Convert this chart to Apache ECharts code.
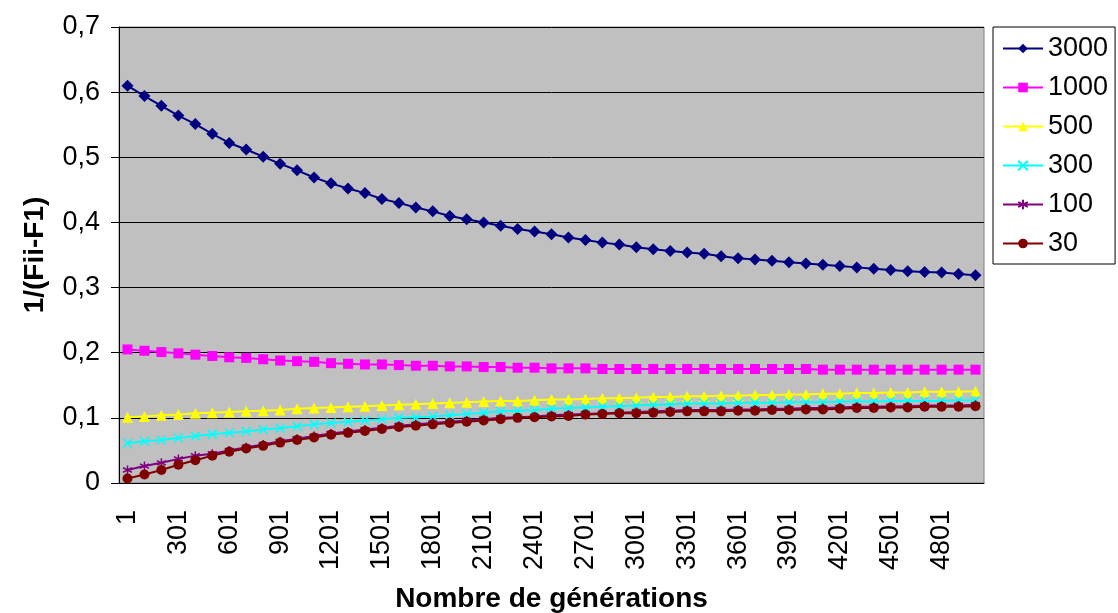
<!DOCTYPE html>
<html lang="fr">
<head>
  <meta charset="UTF-8" />
  <title>1/(Fii-F1)</title>
  <script src="https://cdn.jsdelivr.net/npm/echarts@6/dist/echarts.min.js"></script>
  <style>
    * { margin: 0; padding: 0; box-sizing: border-box; }
    body { background: #fff; }
    #chart { width: 1118px; height: 613px; }
  </style>
</head>
<body>
  <div id="chart"></div>
  <script>
    const generations = ['1', '101', '201', '301', '401', '501', '601', '701', '801', '901',
      '1001', '1101', '1201', '1301', '1401', '1501', '1601', '1701', '1801', '1901',
      '2001', '2101', '2201', '2301', '2401', '2501', '2601', '2701', '2801', '2901',
      '3001', '3101', '3201', '3301', '3401', '3501', '3601', '3701', '3801', '3901',
      '4001', '4101', '4201', '4301', '4401', '4501', '4601', '4701', '4801', '4901', '5001'];

    const s3000 = [0.610, 0.594, 0.579, 0.564, 0.551, 0.536, 0.522, 0.512, 0.501, 0.490,
      0.480, 0.469, 0.460, 0.452, 0.445, 0.436, 0.430, 0.423, 0.417, 0.410,
      0.405, 0.400, 0.395, 0.390, 0.386, 0.382, 0.377, 0.373, 0.369, 0.366,
      0.362, 0.359, 0.356, 0.354, 0.352, 0.348, 0.345, 0.343, 0.341, 0.339,
      0.337, 0.335, 0.333, 0.331, 0.329, 0.327, 0.325, 0.324, 0.323, 0.321, 0.319];
    const s1000 = [0.205, 0.203, 0.201, 0.199, 0.197, 0.195, 0.193, 0.192, 0.190, 0.188,
      0.187, 0.186, 0.184, 0.183, 0.182, 0.182, 0.181, 0.180, 0.180, 0.179,
      0.179, 0.178, 0.178, 0.177, 0.177, 0.176, 0.176, 0.176, 0.175, 0.175,
      0.175, 0.175, 0.175, 0.175, 0.175, 0.175, 0.175, 0.175, 0.175, 0.175,
      0.175, 0.174, 0.174, 0.174, 0.174, 0.174, 0.174, 0.174, 0.174, 0.174, 0.174];
    const s500 = [0.101, 0.102, 0.104, 0.105, 0.107, 0.108, 0.109, 0.110, 0.111, 0.112,
      0.114, 0.115, 0.116, 0.117, 0.118, 0.119, 0.120, 0.121, 0.122, 0.123,
      0.124, 0.125, 0.126, 0.126, 0.127, 0.128, 0.128, 0.129, 0.130, 0.130,
      0.131, 0.132, 0.132, 0.133, 0.133, 0.134, 0.134, 0.135, 0.135, 0.136,
      0.136, 0.137, 0.137, 0.138, 0.138, 0.139, 0.139, 0.140, 0.140, 0.140, 0.141];
    const s300 = [0.061, 0.064, 0.066, 0.069, 0.072, 0.075, 0.077, 0.079, 0.082, 0.084,
      0.087, 0.090, 0.092, 0.094, 0.096, 0.098, 0.100, 0.101, 0.102, 0.104,
      0.106, 0.108, 0.110, 0.111, 0.112, 0.114, 0.115, 0.116, 0.117, 0.118,
      0.119, 0.120, 0.121, 0.122, 0.122, 0.122, 0.123, 0.123, 0.123, 0.124,
      0.124, 0.124, 0.125, 0.125, 0.125, 0.126, 0.126, 0.126, 0.126, 0.127, 0.127];
    const s100 = [0.020, 0.026, 0.031, 0.037, 0.042, 0.045, 0.050, 0.055, 0.059, 0.064,
      0.068, 0.072, 0.076, 0.079, 0.082, 0.085, 0.088, 0.090, 0.092, 0.094,
      0.096, 0.098, 0.100, 0.101, 0.102, 0.104, 0.105, 0.106, 0.107, 0.108,
      0.109, 0.110, 0.111, 0.112, 0.112, 0.112, 0.113, 0.113, 0.114, 0.114,
      0.115, 0.115, 0.116, 0.117, 0.117, 0.118, 0.118, 0.119, 0.119, 0.119, 0.120];
    const s30 = [0.007, 0.013, 0.020, 0.028, 0.035, 0.042, 0.048, 0.053, 0.057, 0.062,
      0.066, 0.070, 0.074, 0.077, 0.080, 0.083, 0.086, 0.088, 0.090, 0.092,
      0.094, 0.096, 0.098, 0.100, 0.101, 0.102, 0.103, 0.105, 0.106, 0.107,
      0.107, 0.108, 0.109, 0.110, 0.110, 0.110, 0.111, 0.111, 0.112, 0.112,
      0.113, 0.113, 0.114, 0.115, 0.115, 0.116, 0.116, 0.117, 0.117, 0.117, 0.118];

    const FONT = "'Liberation Sans', Arial, sans-serif";

    // Excel-like marker shapes
    const crossPath = 'path://M0,0L10,10M10,0L0,10';
    const starPath = 'path://M5,0L5,10M0,2.5L10,7.5M0,7.5L10,2.5';

    function lineSeries(name, data, color, symbol, size, stroke) {
      return {
        name, type: 'line', data,
        symbol, symbolSize: size, showAllSymbol: true,
        lineStyle: { color, width: 2 },
        itemStyle: stroke
          ? { color, borderColor: color, borderWidth: 1.5 }
          : { color, borderWidth: 0 },
        emphasis: { disabled: true }
      };
    }

    const chart = echarts.init(document.getElementById('chart'));
    chart.setOption({
      animation: false,
      textStyle: { fontFamily: FONT },
      grid: {
        left: 119, right: 134, top: 27, bottom: 130,
        outerBoundsMode: 'none', containLabel: false,
        show: true, backgroundColor: '#c0c0c0', borderColor: '#808080', borderWidth: 1
      },
      legend: {
        orient: 'vertical', left: 993, top: 27,
        padding: [8, 7, 7, 9], itemGap: 12,
        itemWidth: 40, itemHeight: 12,
        backgroundColor: '#fff', borderColor: '#000', borderWidth: 1,
        textStyle: { fontSize: 27, color: '#000', fontFamily: FONT },
        data: ['3000', '1000', '500', '300', '100', '30']
      },
      xAxis: {
        type: 'category', data: generations, boundaryGap: true,
        name: 'Nombre de générations', nameLocation: 'middle', nameGap: 102,
        nameTextStyle: { fontSize: 28, fontWeight: 'bold', color: '#000', fontFamily: FONT },
        axisLine: { lineStyle: { color: '#000', width: 1 } },
        axisTick: { interval: 0, length: 7, lineStyle: { color: '#000' } },
        axisLabel: { interval: 2, rotate: 90, fontSize: 27, color: '#000', margin: 27, fontFamily: FONT },
        splitLine: { show: false }
      },
      yAxis: {
        type: 'value', min: 0, max: 0.7, interval: 0.1,
        name: '1/(Fii-F1)', nameLocation: 'middle', nameRotate: 90, nameGap: 70,
        nameTextStyle: { fontSize: 28, fontWeight: 'bold', color: '#000', fontFamily: FONT },
        axisLine: { show: true, lineStyle: { color: '#000', width: 1 } },
        axisTick: { show: true, length: 8, lineStyle: { color: '#000' } },
        axisLabel: {
          fontSize: 27, color: '#000', margin: 19, fontFamily: FONT,
          formatter: v => (Math.round(v * 10) / 10).toString().replace('.', ',')
        },
        splitLine: { lineStyle: { color: '#000', width: 1 } }
      },
      series: [
        lineSeries('3000', s3000, '#000080', 'diamond', [12, 12]),
        lineSeries('1000', s1000, '#ff00ff', 'rect', 10),
        lineSeries('500', s500, '#ffff00', 'triangle', 11),
        lineSeries('300', s300, '#00ffff', crossPath, 9, true),
        lineSeries('100', s100, '#800080', starPath, 9, true),
        lineSeries('30', s30, '#800000', 'circle', 10)
      ]
    });
  </script>
</body>
</html>
